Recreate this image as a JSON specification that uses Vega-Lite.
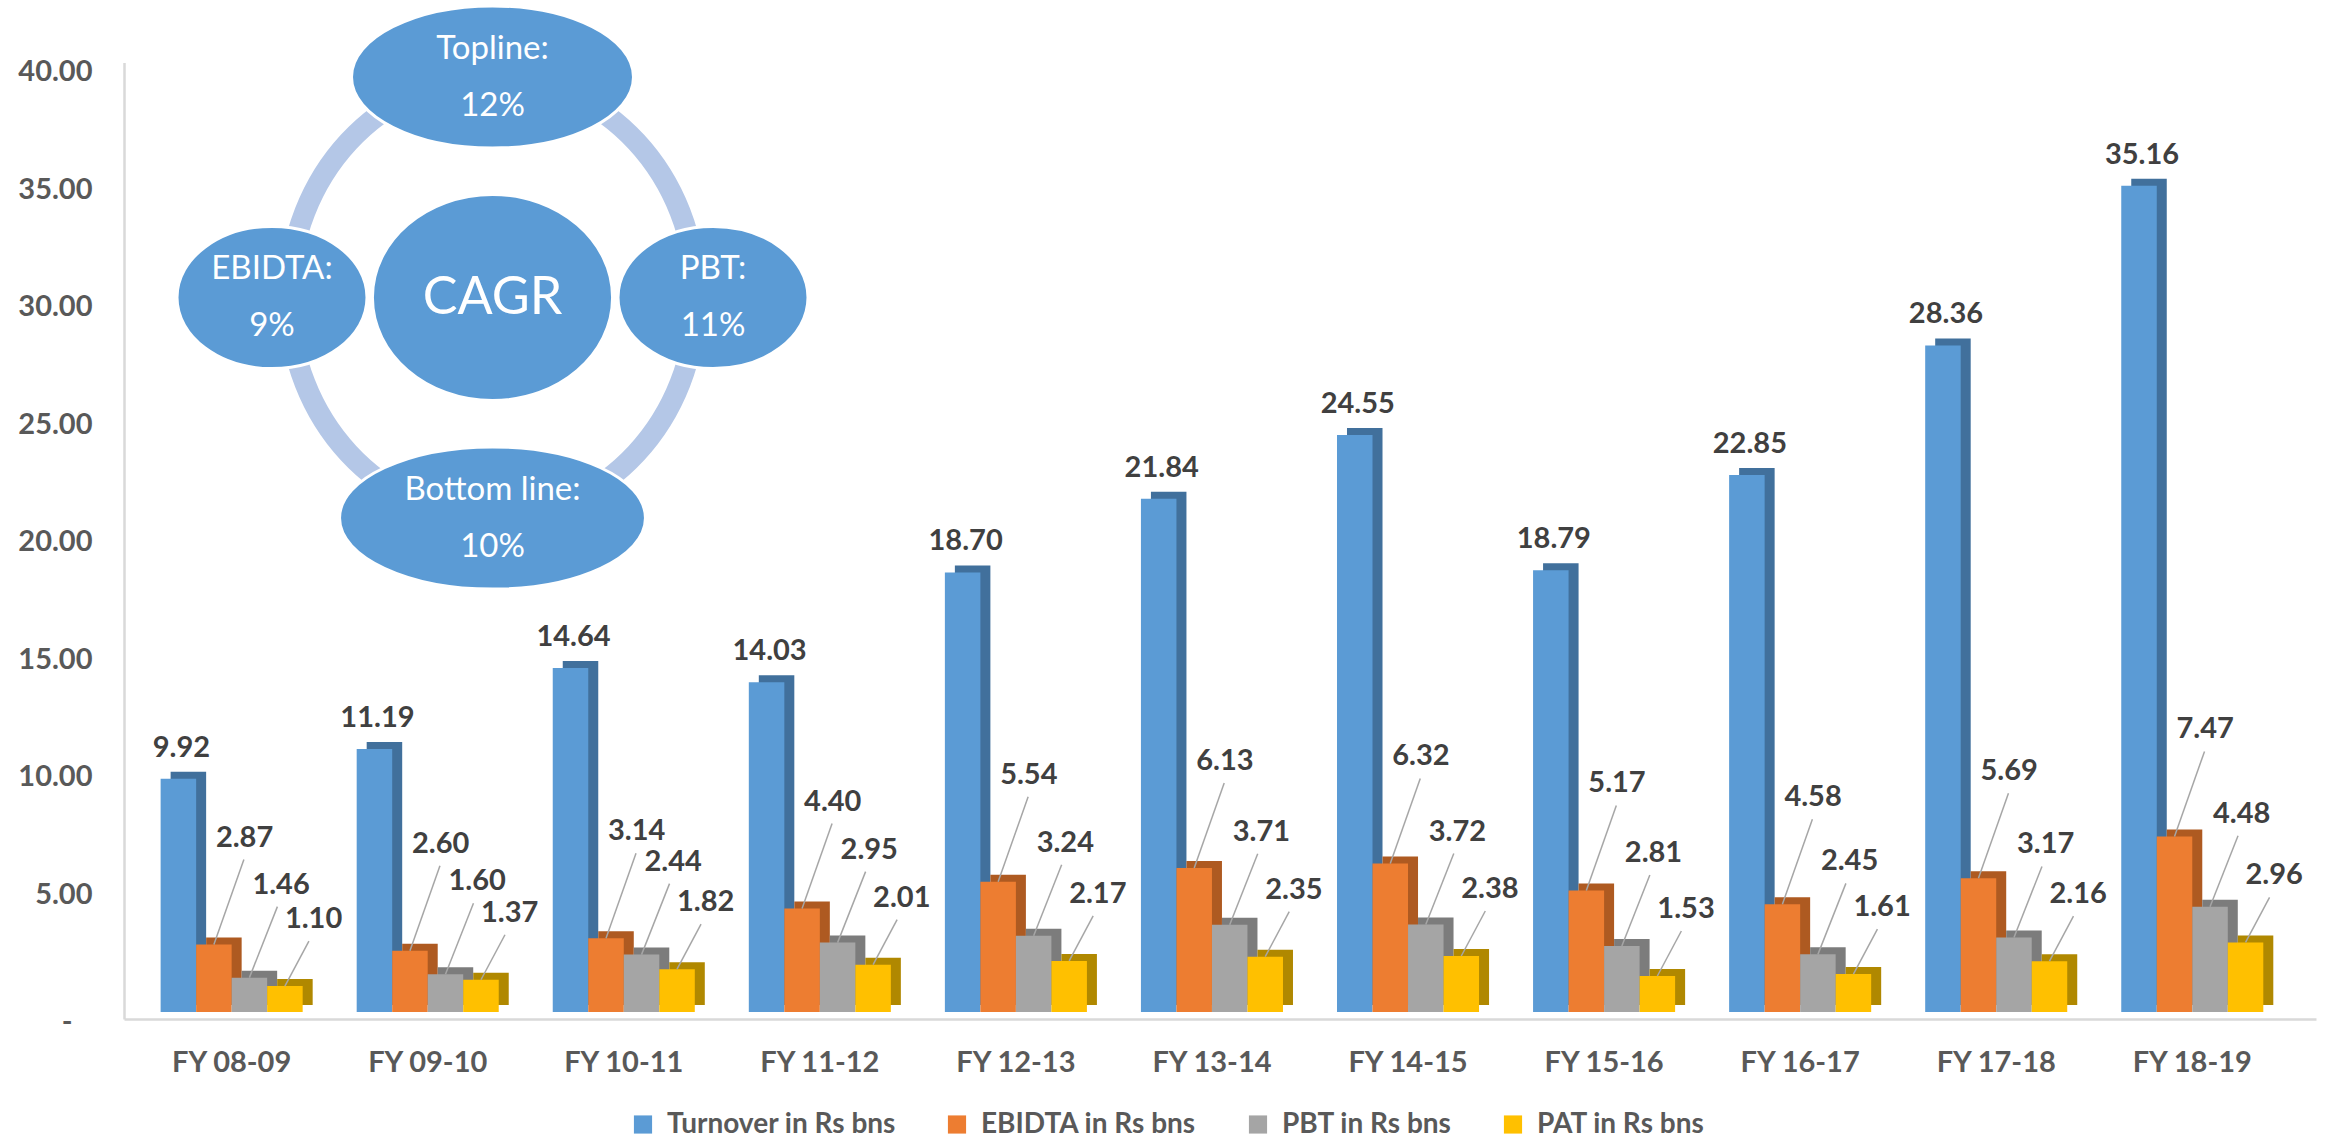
{
  "$schema": "https://vega.github.io/schema/vega-lite/v6.json",
  "width": 2192,
  "height": 956.5,
  "autosize": {"type": "none"},
  "padding": {"left": 124, "top": 62.5, "right": 19, "bottom": 120},
  "background": "#ffffff",
  "config": {"view": {"stroke": null}, "font": "Lato"},
  "datasets": {
    "financials": [
      {"year": "FY 08-09", "series": "Turnover in Rs bns", "value": 9.92},
      {"year": "FY 08-09", "series": "EBIDTA in Rs bns", "value": 2.87},
      {"year": "FY 08-09", "series": "PBT in Rs bns", "value": 1.46},
      {"year": "FY 08-09", "series": "PAT in Rs bns", "value": 1.10},
      {"year": "FY 09-10", "series": "Turnover in Rs bns", "value": 11.19},
      {"year": "FY 09-10", "series": "EBIDTA in Rs bns", "value": 2.60},
      {"year": "FY 09-10", "series": "PBT in Rs bns", "value": 1.60},
      {"year": "FY 09-10", "series": "PAT in Rs bns", "value": 1.37},
      {"year": "FY 10-11", "series": "Turnover in Rs bns", "value": 14.64},
      {"year": "FY 10-11", "series": "EBIDTA in Rs bns", "value": 3.14},
      {"year": "FY 10-11", "series": "PBT in Rs bns", "value": 2.44},
      {"year": "FY 10-11", "series": "PAT in Rs bns", "value": 1.82},
      {"year": "FY 11-12", "series": "Turnover in Rs bns", "value": 14.03},
      {"year": "FY 11-12", "series": "EBIDTA in Rs bns", "value": 4.40},
      {"year": "FY 11-12", "series": "PBT in Rs bns", "value": 2.95},
      {"year": "FY 11-12", "series": "PAT in Rs bns", "value": 2.01},
      {"year": "FY 12-13", "series": "Turnover in Rs bns", "value": 18.70},
      {"year": "FY 12-13", "series": "EBIDTA in Rs bns", "value": 5.54},
      {"year": "FY 12-13", "series": "PBT in Rs bns", "value": 3.24},
      {"year": "FY 12-13", "series": "PAT in Rs bns", "value": 2.17},
      {"year": "FY 13-14", "series": "Turnover in Rs bns", "value": 21.84},
      {"year": "FY 13-14", "series": "EBIDTA in Rs bns", "value": 6.13},
      {"year": "FY 13-14", "series": "PBT in Rs bns", "value": 3.71},
      {"year": "FY 13-14", "series": "PAT in Rs bns", "value": 2.35},
      {"year": "FY 14-15", "series": "Turnover in Rs bns", "value": 24.55},
      {"year": "FY 14-15", "series": "EBIDTA in Rs bns", "value": 6.32},
      {"year": "FY 14-15", "series": "PBT in Rs bns", "value": 3.72},
      {"year": "FY 14-15", "series": "PAT in Rs bns", "value": 2.38},
      {"year": "FY 15-16", "series": "Turnover in Rs bns", "value": 18.79},
      {"year": "FY 15-16", "series": "EBIDTA in Rs bns", "value": 5.17},
      {"year": "FY 15-16", "series": "PBT in Rs bns", "value": 2.81},
      {"year": "FY 15-16", "series": "PAT in Rs bns", "value": 1.53},
      {"year": "FY 16-17", "series": "Turnover in Rs bns", "value": 22.85},
      {"year": "FY 16-17", "series": "EBIDTA in Rs bns", "value": 4.58},
      {"year": "FY 16-17", "series": "PBT in Rs bns", "value": 2.45},
      {"year": "FY 16-17", "series": "PAT in Rs bns", "value": 1.61},
      {"year": "FY 17-18", "series": "Turnover in Rs bns", "value": 28.36},
      {"year": "FY 17-18", "series": "EBIDTA in Rs bns", "value": 5.69},
      {"year": "FY 17-18", "series": "PBT in Rs bns", "value": 3.17},
      {"year": "FY 17-18", "series": "PAT in Rs bns", "value": 2.16},
      {"year": "FY 18-19", "series": "Turnover in Rs bns", "value": 35.16},
      {"year": "FY 18-19", "series": "EBIDTA in Rs bns", "value": 7.47},
      {"year": "FY 18-19", "series": "PBT in Rs bns", "value": 4.48},
      {"year": "FY 18-19", "series": "PAT in Rs bns", "value": 2.96}
    ],
    "cagr": [
      {"node": "Topline", "label": "Topline:\n12%", "col": 0, "row": 1},
      {"node": "EBIDTA", "label": "EBIDTA:\n9%", "col": -1, "row": 0},
      {"node": "CAGR", "label": "CAGR", "col": 0, "row": 0},
      {"node": "PBT", "label": "PBT:\n11%", "col": 1, "row": 0},
      {"node": "Bottom line", "label": "Bottom line:\n10%", "col": 0, "row": -1}
    ]
  },
  "layer": [
    {
      "data": {"name": "financials"},
      "encoding": {
        "x": {
          "field": "year",
          "type": "nominal",
          "sort": null,
          "scale": {"paddingInner": 0.2755, "paddingOuter": 0.2278, "align": 0.41},
          "axis": {
            "title": null,
            "grid": false,
            "ticks": false,
            "domainColor": "#d9d9d9",
            "domainWidth": 2.5,
            "labelFont": "Lato",
            "labelFontSize": 29,
            "labelFontWeight": "bold",
            "labelColor": "#595959",
            "labelBaseline": "alphabetic",
            "labelPadding": 52,
            "labelDx": -9,
            "labelAngle": 0
          }
        },
        "y": {
          "field": "value",
          "type": "quantitative",
          "scale": {"domain": [-0.3, 40.4], "nice": false},
          "axis": {
            "title": null,
            "grid": false,
            "ticks": false,
            "values": [0, 5, 10, 15, 20, 25, 30, 35, 40],
            "labelExpr": "datum.value === 0 ? '-' : format(datum.value, '.2f')",
            "labelOffset": {"condition": {"test": "datum.value === 0", "value": 10}, "value": 0},
            "labelPadding": {"condition": {"test": "datum.value === 0", "value": 52}, "value": 32},
            "domainColor": "#d9d9d9",
            "domainWidth": 2.5,
            "labelFont": "Lato",
            "labelFontSize": 29,
            "labelFontWeight": "bold",
            "labelColor": "#595959"
          }
        }
      },
      "layer": [
        {
          "mark": {"type": "bar", "yOffset": -7, "y2Offset": -7},
          "encoding": {
            "xOffset": {
              "field": "series",
              "type": "nominal",
              "sort": null,
              "scale": {
                "domain": ["Turnover in Rs bns", "EBIDTA in Rs bns", "PBT in Rs bns", "PAT in Rs bns"],
                "range": [10, 152.05],
                "paddingInner": 0,
                "paddingOuter": 0
              }
            },
            "y2": {"datum": 0},
            "fill": {
              "condition": [
                {"test": "datum.series === 'Turnover in Rs bns'", "value": "#41709c"},
                {"test": "datum.series === 'EBIDTA in Rs bns'", "value": "#ae5a21"},
                {"test": "datum.series === 'PBT in Rs bns'", "value": "#7c7c7c"}
              ],
              "value": "#b08800"
            }
          }
        },
        {
          "encoding": {
            "xOffset": {
              "field": "series",
              "type": "nominal",
              "sort": null,
              "scale": {
                "domain": ["Turnover in Rs bns", "EBIDTA in Rs bns", "PBT in Rs bns", "PAT in Rs bns"],
                "paddingInner": 0,
                "paddingOuter": 0
              }
            }
          },
          "layer": [
            {
              "mark": {"type": "bar"},
              "encoding": {
                "y2": {"datum": 0},
                "color": {
                  "field": "series",
                  "type": "nominal",
                  "scale": {
                    "domain": ["Turnover in Rs bns", "EBIDTA in Rs bns", "PBT in Rs bns", "PAT in Rs bns"],
                    "range": ["#5b9bd5", "#ed7d31", "#a5a5a5", "#ffc000"]
                  },
                  "legend": {
                    "title": null,
                    "orient": "none",
                    "direction": "horizontal",
                    "columns": 4,
                    "legendX": 505,
                    "legendY": 1048,
                    "padding": 0,
                    "symbolType": "square",
                    "symbolSize": 330,
                    "symbolStrokeWidth": 0,
                    "labelFont": "Lato",
                    "labelFontSize": 28,
                    "labelFontWeight": "bold",
                    "labelColor": "#595959",
                    "labelOffset": 10,
                    "labelLimit": 400,
                    "columnPadding": 47
                  }
                }
              }
            },
            {
              "transform": [{"filter": "datum.series !== 'Turnover in Rs bns'"}],
              "mark": {"type": "point", "filled": false, "stroke": "#a6a6a6", "strokeWidth": 1.5, "size": 40000, "opacity": 1},
              "encoding": {
                "shape": {
                  "field": "series",
                  "type": "nominal",
                  "scale": {
                    "domain": ["EBIDTA in Rs bns", "PBT in Rs bns", "PAT in Rs bns"],
                    "range": ["M0,0L0.3,-0.85", "M0,0L0.28,-0.71", "M0,0L0.24,-0.45"]
                  },
                  "legend": null
                }
              }
            },
            {
              "transform": [{"filter": "datum.series === 'Turnover in Rs bns'"}],
              "mark": {"type": "text", "align": "center", "baseline": "alphabetic", "dx": 3, "dy": -22, "font": "Lato", "fontSize": 29, "fontWeight": "bold", "color": "#404040"},
              "encoding": {"text": {"field": "value", "type": "quantitative", "format": ".2f"}}
            },
            {
              "transform": [{"filter": "datum.series === 'EBIDTA in Rs bns'"}],
              "mark": {"type": "text", "align": "left", "baseline": "alphabetic", "dx": 2, "dy": -98, "font": "Lato", "fontSize": 29, "fontWeight": "bold", "color": "#404040"},
              "encoding": {"text": {"field": "value", "type": "quantitative", "format": ".2f"}}
            },
            {
              "transform": [{"filter": "datum.series === 'PBT in Rs bns'"}],
              "mark": {"type": "text", "align": "left", "baseline": "alphabetic", "dx": 3, "dy": -84, "font": "Lato", "fontSize": 29, "fontWeight": "bold", "color": "#404040"},
              "encoding": {"text": {"field": "value", "type": "quantitative", "format": ".2f"}}
            },
            {
              "transform": [{"filter": "datum.series === 'PAT in Rs bns'"}],
              "mark": {"type": "text", "align": "left", "baseline": "alphabetic", "dx": 0, "dy": -58, "font": "Lato", "fontSize": 29, "fontWeight": "bold", "color": "#404040"},
              "encoding": {"text": {"field": "value", "type": "quantitative", "format": ".2f"}}
            }
          ]
        }
      ],
      "resolve": {"scale": {"xOffset": "independent"}}
    },
    {
      "data": {"name": "cagr"},
      "encoding": {
        "x": {"field": "col", "type": "quantitative", "scale": {"domain": [-1, 1], "range": [148, 589], "nice": false, "zero": false}, "axis": null},
        "y": {"field": "row", "type": "quantitative", "scale": {"domain": [-1, 1], "range": [455.5, 14.5], "nice": false, "zero": false}, "axis": null}
      },
      "layer": [
        {
          "transform": [{"filter": "datum.node === 'CAGR'"}],
          "mark": {
            "type": "point",
            "shape": "M0.885,0C0.885,0.5285,0.4888,0.957,0,0.957C-0.4888,0.957,-0.885,0.5285,-0.885,0C-0.885,-0.5285,-0.4888,-0.957,0,-0.957C0.4888,-0.957,0.885,-0.5285,0.885,0Z",
            "size": 211600,
            "filled": false,
            "stroke": "#b4c7e7",
            "strokeWidth": 21,
            "opacity": 1
          }
        },
        {
          "mark": {"type": "point", "filled": true, "fill": "#5b9bd5", "stroke": "#ffffff", "strokeWidth": 3, "size": 211600, "opacity": 1},
          "encoding": {
            "shape": {
              "field": "node",
              "type": "nominal",
              "scale": {
                "domain": ["Topline", "EBIDTA", "CAGR", "PBT", "Bottom line"],
                "range": [
                  "M0.613,0C0.613,0.1707,0.3386,0.309,0,0.309C-0.3386,0.309,-0.613,0.1707,-0.613,0C-0.613,-0.1707,-0.3386,-0.309,0,-0.309C0.3386,-0.309,0.613,-0.1707,0.613,0Z",
                  "M0.413,0C0.413,0.1707,0.2281,0.309,0,0.309C-0.2281,0.309,-0.413,0.1707,-0.413,0C-0.413,-0.1707,-0.2281,-0.309,0,-0.309C0.2281,-0.309,0.413,-0.1707,0.413,0Z",
                  "M0.522,0C0.522,0.2474,0.2883,0.448,0,0.448C-0.2883,0.448,-0.522,0.2474,-0.522,0C-0.522,-0.2474,-0.2883,-0.448,0,-0.448C0.2883,-0.448,0.522,-0.2474,0.522,0Z",
                  "M0.413,0C0.413,0.1707,0.2281,0.309,0,0.309C-0.2281,0.309,-0.413,0.1707,-0.413,0C-0.413,-0.1707,-0.2281,-0.309,0,-0.309C0.2281,-0.309,0.413,-0.1707,0.413,0Z",
                  "M0.665,0C0.665,0.1707,0.3673,0.309,0,0.309C-0.3673,0.309,-0.665,0.1707,-0.665,0C-0.665,-0.1707,-0.3673,-0.309,0,-0.309C0.3673,-0.309,0.665,-0.1707,0.665,0Z"
                ]
              },
              "legend": null
            }
          }
        },
        {
          "transform": [{"filter": "datum.node !== 'CAGR'"}],
          "mark": {"type": "text", "align": "center", "baseline": "middle", "dy": -28.5, "lineBreak": "\n", "lineHeight": 57, "font": "Lato", "fontSize": 33, "color": "#ffffff"},
          "encoding": {"text": {"field": "label", "type": "nominal"}}
        },
        {
          "transform": [{"filter": "datum.node === 'CAGR'"}],
          "mark": {"type": "text", "align": "center", "baseline": "middle", "font": "Lato", "fontSize": 52, "color": "#ffffff"},
          "encoding": {"text": {"field": "label", "type": "nominal"}}
        }
      ]
    }
  ],
  "resolve": {"scale": {"x": "independent", "y": "independent", "shape": "independent"}}
}
